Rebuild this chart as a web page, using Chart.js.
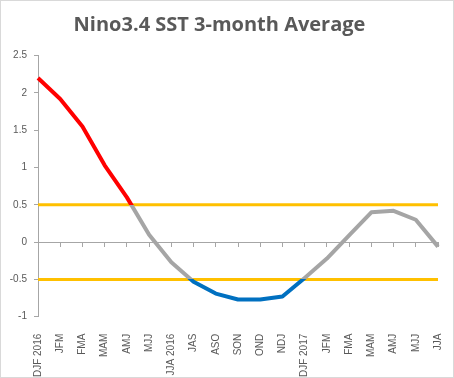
<!DOCTYPE html>
<html>
<head>
<meta charset="utf-8">
<script src="https://cdn.jsdelivr.net/npm/chart.js@4/dist/chart.umd.min.js"></script>
<style>
html,body{margin:0;padding:0;background:#fff;}
#wrap{width:454px;height:378px;box-sizing:border-box;border:1px solid #d9d9d9;position:relative;}
canvas{display:block;}
</style>
</head>
<body>
<div id="wrap"><canvas id="c"></canvas></div>
<script>
const labels = ['DJF 2016','JFM','FMA','MAM','AMJ','MJJ','JJA 2016','JAS','ASO','SON','OND','NDJ','DJF 2017','JFM','FMA','MAM','AMJ','MJJ','JJA'];
const sst = [2.2, 1.92, 1.55, 1.03, 0.6, 0.1, -0.27, -0.53, -0.69, -0.77, -0.77, -0.73, -0.48, -0.22, 0.09, 0.4, 0.42, 0.3, -0.06];
const thresholds = [0.5, -0.5];
const yTicks = {min: -1, max: 2.5, step: 0.5};

const RED = '#FF0000', GRAY = '#A5A5A5', BLUE = '#0070C0', ORANGE = '#FFC000', AXIS = '#A6A6A6', TEXT = '#595959';

function lineColor(ctx) {
  const chart = ctx.chart;
  const area = chart.chartArea;
  if (!area) return GRAY;
  const y = chart.scales.y;
  const top = area.top, bot = area.bottom, h = bot - top;
  const f1 = Math.min(1, Math.max(0, (y.getPixelForValue(thresholds[0]) - top) / h));
  const f2 = Math.min(1, Math.max(0, (y.getPixelForValue(thresholds[1]) - top) / h));
  const g = chart.ctx.createLinearGradient(0, top, 0, bot);
  g.addColorStop(0, RED);
  g.addColorStop(f1, RED);
  g.addColorStop(f1, GRAY);
  g.addColorStop(f2, GRAY);
  g.addColorStop(f2, BLUE);
  g.addColorStop(1, BLUE);
  return g;
}

const thresholdPlugin = {
  id: 'thresholds',
  beforeDatasetsDraw(chart) {
    const {ctx, chartArea, scales} = chart;
    ctx.save();
    ctx.strokeStyle = ORANGE;
    ctx.lineWidth = 3;
    thresholds.forEach(v => {
      const py = scales.y.getPixelForValue(v);
      ctx.beginPath();
      ctx.moveTo(chartArea.left, py);
      ctx.lineTo(chartArea.right, py);
      ctx.stroke();
    });
    ctx.restore();
  }
};

new Chart(document.getElementById('c'), {
  type: 'line',
  data: {
    labels: labels,
    datasets: [{
      data: sst,
      borderColor: lineColor,
      borderWidth: 4,
      pointRadius: 0,
      tension: 0,
      borderJoinStyle: 'round',
      xAxisID: 'x',
      yAxisID: 'y'
    }]
  },
  options: {
    responsive: true,
    maintainAspectRatio: false,
    animation: false,
    layout: {padding: {left: 0, right: 15, top: 0, bottom: 0}},
    plugins: {
      legend: {display: false},
      tooltip: {enabled: false},
      title: {
        display: true,
        text: 'Nino3.4 SST 3-month Average',
        color: TEXT,
        font: {family: 'Open Sans', size: 20, weight: '700', lineHeight: 1.2},
        padding: {top: 12, bottom: 18.7}
      }
    },
    scales: {
      x: {
        type: 'category',
        offset: false,
        position: 'bottom',
        grid: {display: false},
        border: {display: false},
        ticks: {
          color: TEXT,
          font: {family: 'Liberation Sans', size: 10},
          minRotation: 90, maxRotation: 90,
          autoSkip: false,
          padding: 9
        },
        afterFit(s) { s.height = 60.3; s.paddingLeft = 0; s.paddingRight = 0; }
      },
      x2: {
        type: 'category',
        labels: labels,
        offset: false,
        position: {y: 0},
        grid: {display: true, drawOnChartArea: false, drawTicks: true, tickLength: 4, color: AXIS, lineWidth: 1},
        border: {display: true, color: AXIS, width: 1},
        ticks: {display: false},
        afterFit(s) { s.paddingLeft = 0; s.paddingRight = 0; }
      },
      y: {
        min: yTicks.min, max: yTicks.max,
        ticks: {
          stepSize: yTicks.step, color: TEXT, font: {family: 'Liberation Sans', size: 10}, padding: 7,
          callback: (v) => String(Number(v.toFixed(2)))
        },
        grid: {display: true, drawOnChartArea: false, drawTicks: true, tickLength: 4, color: AXIS},
        border: {display: true, color: AXIS, width: 1},
        afterFit(s) { s.width = 37; }
      }
    }
  },
  plugins: [thresholdPlugin]
});
</script>
</body>
</html>
